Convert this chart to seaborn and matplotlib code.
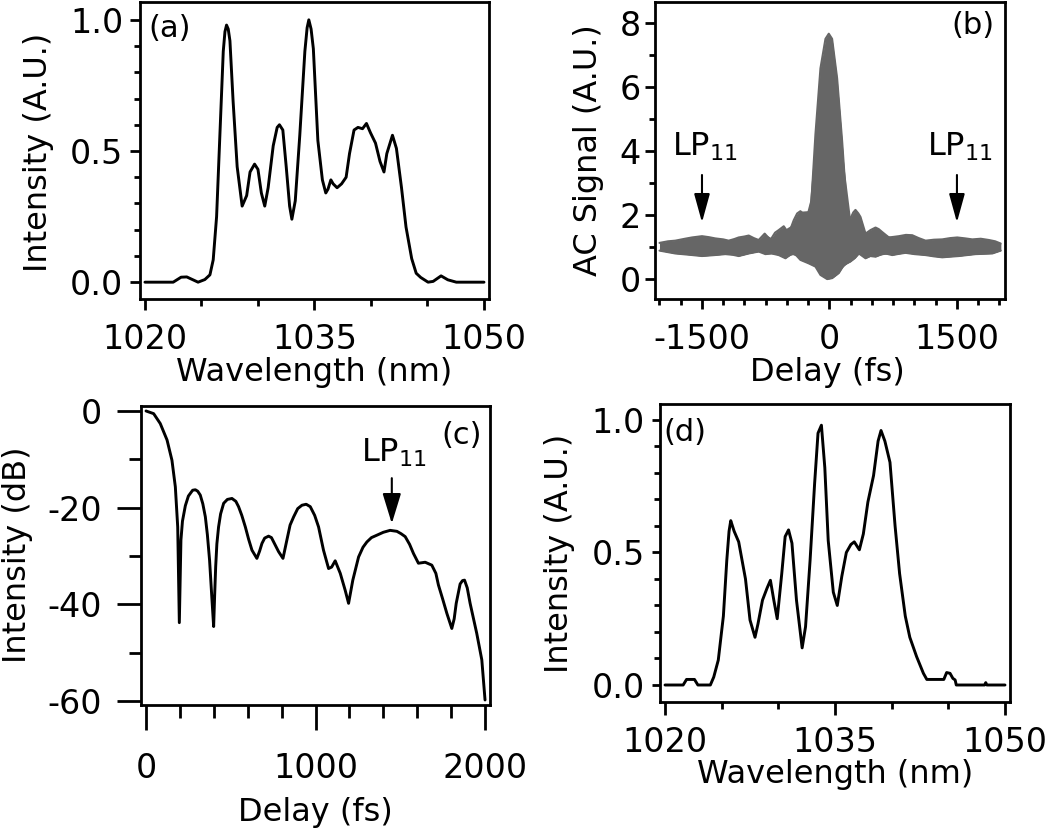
import matplotlib
matplotlib.use("Agg")
import matplotlib.pyplot as plt
from matplotlib.ticker import MultipleLocator, FixedLocator
import numpy as np
import pandas as pd
import seaborn as sns

# (a) input spectrum
wl_a = [1020, 1022.5, 1023.2, 1023.7, 1024.7, 1025.3, 1025.75, 1026.04, 1026.34, 1026.63,
        1026.93, 1027.08, 1027.22, 1027.37, 1027.52, 1027.8, 1028.16, 1028.6, 1029.0, 1029.3,
        1029.7, 1030.0, 1030.3, 1030.6, 1030.9, 1031.35, 1031.7, 1031.9, 1032.2, 1032.5,
        1032.8, 1033.0, 1033.3, 1033.7, 1034.15, 1034.35, 1034.5, 1034.7, 1034.9, 1035.3,
        1035.7, 1036.0, 1036.2, 1036.45, 1036.65, 1037.0, 1037.4, 1037.8, 1038.1, 1038.5,
        1038.85, 1039.25, 1039.6, 1039.95, 1040.4, 1040.8, 1041.15, 1041.4, 1041.9, 1042.25,
        1042.7, 1043.1, 1043.6, 1044.0, 1044.4, 1045.05, 1045.5, 1046.2, 1046.8, 1047.55, 1050]
int_a = [0, 0, 0.019, 0.02, 0, 0.01, 0.028, 0.085, 0.25, 0.56,
         0.88, 0.955, 0.98, 0.965, 0.92, 0.69, 0.44, 0.29, 0.33, 0.42,
         0.45, 0.43, 0.34, 0.29, 0.36, 0.52, 0.59, 0.60, 0.58, 0.44,
         0.29, 0.24, 0.31, 0.56, 0.88, 0.97, 1.0, 0.965, 0.89, 0.54,
         0.39, 0.34, 0.355, 0.39, 0.375, 0.36, 0.375, 0.40, 0.49, 0.58,
         0.59, 0.585, 0.605, 0.57, 0.53, 0.46, 0.42, 0.49, 0.56, 0.51,
         0.36, 0.21, 0.09, 0.034, 0.018, 0, 0.003, 0.024, 0.009, 0, 0]

# (b) autocorrelation envelope
delay_up = [-2000, -1900, -1814, -1700, -1618, -1500, -1420, -1343, -1250, -1186, -1120,
            -1068, -1000, -950, -890, -833, -762, -695, -640, -597, -538, -479, -420, -380,
            -342, -300, -263, -212, -165, -106, -47, -8, 31, 90, 149, 208, 247, 280, 306,
            340, 365, 424, 483, 542, 580, 620, 699, 760, 817, 900, 974, 1050, 1131, 1230, 1327,
            1420, 1504, 1600, 1681, 1780, 1877, 1950, 2015]
ac_up = [1.13, 1.18, 1.2, 1.26, 1.30, 1.34, 1.31, 1.27, 1.24, 1.20, 1.25,
         1.30, 1.33, 1.36, 1.28, 1.22, 1.42, 1.22, 1.45, 1.53, 1.65, 1.42, 1.84, 2.05,
         2.12, 2.02, 1.94, 2.45, 4.52, 6.58, 7.5, 7.66, 7.5, 6.27, 4.31, 2.04, 1.89, 2.08, 2.16,
         2.05, 1.94, 1.42, 1.53, 1.61, 1.56, 1.47, 1.30, 1.32, 1.34, 1.38, 1.37, 1.28, 1.20, 1.23, 1.24,
         1.28, 1.30, 1.27, 1.24, 1.26, 1.22, 1.18, 1.11]
delay_lo = [-2000, -1814, -1650, -1500, -1350, -1225, -1140, -1068, -950, -833, -754, -680,
            -597, -518, -440, -390, -342, -243, -165, -106, -27, 31, 110, 169, 247, 300, 346,
            424, 480, 542, 600, 660, 738, 820, 895, 1000, 1131, 1230, 1327, 1420, 1524, 1620,
            1720, 1820, 1916, 2015]
ac_lo = [0.89, 0.80, 0.76, 0.72, 0.75, 0.78, 0.76, 0.72, 0.80, 0.86, 0.78, 0.80,
         0.75, 0.65, 0.80, 0.74, 0.60, 0.49, 0.39, 0.13, 0.0, 0.03, 0.19, 0.44, 0.55, 0.66, 0.80,
         0.65, 0.72, 0.70, 0.76, 0.80, 0.75, 0.79, 0.82, 0.78, 0.75, 0.71, 0.68, 0.70, 0.72, 0.75,
         0.78, 0.79, 0.80, 0.89]

# (c) Fourier transform (dB)
delay_c = [0, 45, 84, 124, 153, 173, 187, 196.5, 206, 215, 232, 250, 275, 291, 305, 320, 335,
           350, 362, 375, 389, 399, 405, 411, 418, 428, 440, 458, 480, 507, 530, 546, 565, 586,
           605, 625, 654, 670, 684, 700, 723, 740, 753, 782, 808, 831, 850, 871, 895, 920, 945,
           969, 995, 1018, 1047, 1077, 1095, 1116, 1146, 1175, 1195, 1220, 1254, 1280, 1303,
           1330, 1362, 1400, 1440, 1480, 1505, 1529, 1555, 1578, 1607, 1647, 1686, 1710, 1725,
           1750, 1775, 1804, 1818, 1830, 1853, 1867, 1879, 1895, 1912, 1951, 1981, 2000]
db_c = [0, -0.55, -2.6, -6, -10.2, -15.7, -24, -43.8, -26.7, -22.8, -19.6, -17.6, -16.4,
        -16.3, -16.6, -17.4, -19.2, -21.9, -25.6, -30.9, -39, -44.6, -38, -32.2, -27.5, -24,
        -21.3, -19.1, -18.3, -18.1, -18.7, -19.8, -21.6, -24, -26.5, -28.8, -30.5, -29, -27.4,
        -26.3, -25.9, -26.2, -27.1, -29.1, -30.5, -26.7, -23.6, -21.9, -20.2, -19.5, -19.3,
        -19.8, -21.6, -24, -28.8, -32.6, -32.3, -31, -33.6, -37.1, -39.8, -35, -30.2, -28.2,
        -27.1, -26.2, -25.7, -25.1, -24.7, -24.9, -25.4, -26, -27.6, -29.5, -31.5, -31.3,
        -31.9, -33.6, -36, -38.9, -41.9, -45, -43, -39.8, -35.8, -35.1, -35, -36.6, -39.8,
        -46, -51.5, -59.8]

# (d) output spectrum
wl_d = [1020, 1021.6, 1021.9, 1022.6, 1022.9, 1024.0, 1024.3, 1024.7, 1025.15, 1025.45,
        1025.65, 1025.8, 1025.95, 1026.1, 1026.5, 1027.1, 1027.5, 1027.94, 1028.2, 1028.6,
        1029.0, 1029.3, 1029.6, 1029.9, 1030.3, 1030.6, 1030.9, 1031.2, 1031.6, 1032.1,
        1032.4, 1032.8, 1033.2, 1033.5, 1033.8, 1034.1, 1034.4, 1034.85, 1035.2, 1035.6,
        1036.0, 1036.4, 1036.7, 1037.15, 1037.5, 1037.9, 1038.4, 1038.8, 1039.06, 1039.4,
        1039.85, 1040.3, 1040.7, 1041.2, 1041.6, 1042.2, 1042.8, 1043.1, 1044.6, 1044.85,
        1045.15, 1045.4, 1045.6, 1045.7, 1048.2, 1048.3, 1048.4, 1050]
int_d = [0, 0, 0.021, 0.021, 0, 0, 0.03, 0.094, 0.26, 0.47,
         0.58, 0.62, 0.60, 0.58, 0.54, 0.40, 0.245, 0.18, 0.23, 0.32,
         0.365, 0.395, 0.32, 0.25, 0.42, 0.56, 0.585, 0.535, 0.32, 0.14,
         0.22, 0.47, 0.76, 0.95, 0.98, 0.82, 0.545, 0.35, 0.30, 0.41,
         0.50, 0.53, 0.54, 0.51, 0.57, 0.69, 0.79, 0.92, 0.96, 0.92,
         0.84, 0.60, 0.42, 0.26, 0.18, 0.107, 0.044, 0.021, 0.021, 0.047,
         0.044, 0.025, 0.019, 0, 0, 0.009, 0, 0]

sns.set_theme(style="ticks")
plt.rcParams['font.family'] = ['DejaVu Sans']
plt.rcParams['mathtext.fontset'] = 'dejavusans'
plt.rcParams['axes.unicode_minus'] = False
plt.rcParams['text.color'] = 'black'
plt.rcParams['axes.labelcolor'] = 'black'
plt.rcParams['xtick.color'] = 'black'
plt.rcParams['ytick.color'] = 'black'

LW = 2.0
CLW = 2.1
TICK = 24
LAB = 23

fig = plt.figure(figsize=(10.5, 8.33), dpi=100)
ax_a = fig.add_axes([0.1333, 0.6411, 0.3324, 0.3565])
ax_b = fig.add_axes([0.6238, 0.6411, 0.3333, 0.3565])
ax_c = fig.add_axes([0.1343, 0.1537, 0.3324, 0.3589])
ax_d = fig.add_axes([0.6286, 0.1573, 0.3333, 0.3577])


def style(ax, xlen, ylen, xpad, ypad):
    for s in ax.spines.values():
        s.set_linewidth(LW)
        s.set_color('black')
    ax.tick_params(axis='both', which='both', direction='out', width=LW, color='black',
                   labelsize=TICK, labelcolor='black')
    ax.tick_params(axis='x', which='major', length=xlen[0], pad=xpad)
    ax.tick_params(axis='x', which='minor', length=xlen[1])
    ax.tick_params(axis='y', which='major', length=ylen[0], pad=ypad)
    ax.tick_params(axis='y', which='minor', length=ylen[1])


line_kw = dict(color='black', linewidth=CLW, solid_joinstyle='round')

# (a)
df_a = pd.DataFrame({'wl': wl_a, 'I': int_a})
sns.lineplot(data=df_a, x='wl', y='I', ax=ax_a, **line_kw)
ax_a.set_xlim(1019.56, 1050.44)
ax_a.set_ylim(-0.064, 1.068)
ax_a.xaxis.set_major_locator(FixedLocator([1020, 1035, 1050]))
ax_a.xaxis.set_minor_locator(MultipleLocator(5))
ax_a.yaxis.set_major_locator(FixedLocator([0, 0.5, 1.0]))
ax_a.yaxis.set_minor_locator(MultipleLocator(0.1))
ax_a.set_yticklabels(['0.0', '0.5', '1.0'])
style(ax_a, (8, 5), (7, 4.5), 9, 5)
ax_a.set_xlabel('Wavelength (nm)', fontsize=LAB, va='center')
ax_a.set_ylabel('Intensity (A.U.)', fontsize=LAB, va='center')
ax_a.xaxis.set_label_coords(0.499, -0.248)
ax_a.yaxis.set_label_coords(-0.292, 0.493)
ax_a.text(0.023, 0.91, '(a)', transform=ax_a.transAxes, fontsize=22, ha='left', va='center')

# (b)
gray = '#666666'
ax_b.fill_between(delay_up, ac_up, np.interp(delay_up, delay_lo, ac_lo), color=gray, lw=0)
ax_b.fill_between(delay_lo, np.interp(delay_lo, delay_up, ac_up), ac_lo, color=gray, lw=0)
sns.lineplot(x=delay_up, y=ac_up, ax=ax_b, color=gray, linewidth=1.5)
sns.lineplot(x=delay_lo, y=ac_lo, ax=ax_b, color=gray, linewidth=1.5)
ax_b.set_xlim(-2053, 2065)
ax_b.set_ylim(-0.62, 8.65)
ax_b.xaxis.set_major_locator(FixedLocator([-1500, 0, 1500]))
ax_b.xaxis.set_minor_locator(MultipleLocator(250))
ax_b.yaxis.set_major_locator(MultipleLocator(2))
ax_b.yaxis.set_minor_locator(MultipleLocator(1))
style(ax_b, (7, 4), (7, 4.5), 10, 3)
ax_b.set_xlabel('Delay (fs)', fontsize=LAB, va='center')
ax_b.set_ylabel('AC Signal (A.U.)', fontsize=LAB, va='center')
ax_b.xaxis.set_label_coords(0.494, -0.248)
ax_b.yaxis.set_label_coords(-0.191, 0.5)
ax_b.text(0.971, 0.92, '(b)', transform=ax_b.transAxes, fontsize=22, ha='right', va='center')
arrow_kw = dict(arrowstyle='-|>,head_length=0.8,head_width=0.22', color='black', lw=1.5,
                mutation_scale=22, shrinkA=0, shrinkB=0)
for xa in (-1500, 1500):
    ax_b.annotate('', xy=(xa, 1.77), xytext=(xa, 3.25), arrowprops=arrow_kw)
    ax_b.text(xa + 40, 3.84, r'LP$_{\mathregular{11}}$', fontsize=23, ha='center', va='baseline')

# (c)
df_c = pd.DataFrame({'t': delay_c, 'dB': db_c})
sns.lineplot(data=df_c, x='t', y='dB', ax=ax_c, **line_kw)
ax_c.set_xlim(-29.5, 2029.5)
ax_c.set_ylim(-60.83, 1.03)
ax_c.xaxis.set_major_locator(FixedLocator([0, 1000, 2000]))
ax_c.xaxis.set_minor_locator(MultipleLocator(200))
ax_c.yaxis.set_major_locator(MultipleLocator(20))
ax_c.yaxis.set_minor_locator(MultipleLocator(10))
style(ax_c, (18, 9), (17, 9), 16, 11)
ax_c.set_xlabel('Delay (fs)', fontsize=LAB, va='center')
ax_c.set_ylabel('Intensity (dB)', fontsize=LAB, va='center')
ax_c.xaxis.set_label_coords(0.5, -0.361)
ax_c.yaxis.set_label_coords(-0.355, 0.502)
ax_c.text(0.977, 0.903, '(c)', transform=ax_c.transAxes, fontsize=22, ha='right', va='center')
ax_c.annotate('', xy=(1450, -23.3), xytext=(1450, -13.9),
              arrowprops=dict(arrowstyle='-|>,head_length=0.85,head_width=0.26', color='black',
                              lw=1.5, mutation_scale=22, shrinkA=0, shrinkB=0))
ax_c.text(1460, -10.55, r'LP$_{\mathregular{11}}$', fontsize=23, ha='center', va='baseline')

# (d)
df_d = pd.DataFrame({'wl': wl_d, 'I': int_d})
sns.lineplot(data=df_d, x='wl', y='I', ax=ax_d, **line_kw)
ax_d.set_xlim(1019.56, 1050.44)
ax_d.set_ylim(-0.064, 1.06)
ax_d.xaxis.set_major_locator(FixedLocator([1020, 1035, 1050]))
ax_d.xaxis.set_minor_locator(MultipleLocator(5))
ax_d.yaxis.set_major_locator(FixedLocator([0, 0.5, 1.0]))
ax_d.yaxis.set_minor_locator(MultipleLocator(0.1))
ax_d.set_yticklabels(['0.0', '0.5', '1.0'])
style(ax_d, (9, 5), (6, 4), 8, 5)
ax_d.set_xlabel('Wavelength (nm)', fontsize=LAB, va='center')
ax_d.set_ylabel('Intensity (A.U.)', fontsize=LAB, va='center')
ax_d.xaxis.set_label_coords(0.5, -0.245)
ax_d.yaxis.set_label_coords(-0.286, 0.5)
ax_d.text(0.009, 0.906, '(d)', transform=ax_d.transAxes, fontsize=22, ha='left', va='center')

fig.savefig('out.png', dpi=100)
